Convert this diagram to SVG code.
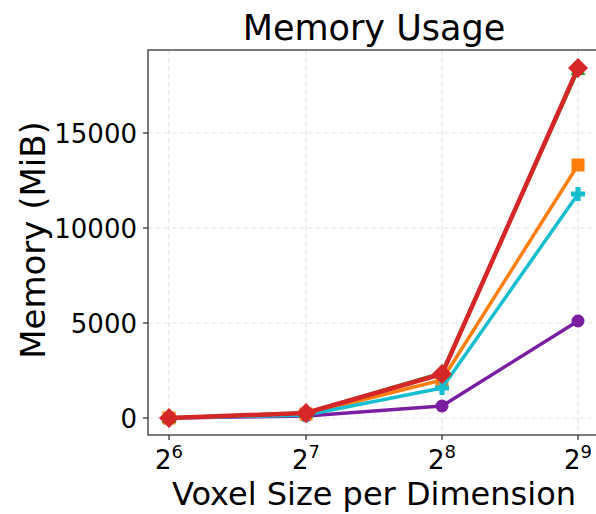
<svg xmlns="http://www.w3.org/2000/svg" width="596" height="514" viewBox="0 0 596 514">
<style>
text{font-family:"DejaVu Sans","Liberation Sans",sans-serif;fill:#000}
.grid{stroke:#e3e3e3;stroke-width:1.2;stroke-dasharray:5,3;fill:none}
.spine{stroke:#333;stroke-width:1.3;fill:none}
.tick{stroke:#333;stroke-width:1.3}
.ytl{font-size:26px;text-anchor:end}
.xtl{font-size:26px;text-anchor:middle}
.sup{font-size:18px}
.ln{fill:none;stroke-linejoin:round;stroke-linecap:round}
</style>
<defs>
<circle id="mC" r="6.5"/>
<rect id="mS" x="-6.5" y="-6.5" width="13" height="13"/>
<path id="mP" d="M-2.6,-7h5.2v4.4h4.4v5.2h-4.4v4.4h-5.2v-4.4h-4.4v-5.2h4.4z"/>
<path id="mT" d="M0,-8L7.5,5H-7.5Z"/>
<path id="mD" d="M0,-10L10,0L0,10L-10,0Z"/>
</defs>
<rect width="596" height="514" fill="#fff"/>
<g id="grid">
<line class="grid" x1="169" y1="50" x2="169" y2="435"/>
<line class="grid" x1="306" y1="50" x2="306" y2="435"/>
<line class="grid" x1="442" y1="50" x2="442" y2="435"/>
<line class="grid" x1="578" y1="50" x2="578" y2="435"/>
<line class="grid" x1="148" y1="133" x2="601" y2="133"/>
<line class="grid" x1="148" y1="228" x2="601" y2="228"/>
<line class="grid" x1="148" y1="323" x2="601" y2="323"/>
<line class="grid" x1="148" y1="418" x2="601" y2="418"/>
</g>
<g id="axes">
<rect class="spine" x="148" y="50" width="453" height="385"/>
<line class="tick" x1="143" y1="133" x2="148" y2="133"/>
<line class="tick" x1="143" y1="228" x2="148" y2="228"/>
<line class="tick" x1="143" y1="323" x2="148" y2="323"/>
<line class="tick" x1="143" y1="418" x2="148" y2="418"/>
<line class="tick" x1="169" y1="435" x2="169" y2="440"/>
<line class="tick" x1="306" y1="435" x2="306" y2="440"/>
<line class="tick" x1="442" y1="435" x2="442" y2="440"/>
<line class="tick" x1="578" y1="435" x2="578" y2="440"/>
<text class="ytl" x="137" y="142.5">15000</text>
<text class="ytl" x="137" y="237.5">10000</text>
<text class="ytl" x="137" y="332.5">5000</text>
<text class="ytl" x="137" y="427.5">0</text>
<text class="xtl" x="169" y="469">2<tspan class="sup" dy="-11">6</tspan></text>
<text class="xtl" x="306" y="469">2<tspan class="sup" dy="-11">7</tspan></text>
<text class="xtl" x="442" y="469">2<tspan class="sup" dy="-11">8</tspan></text>
<text class="xtl" x="578" y="469">2<tspan class="sup" dy="-11">9</tspan></text>
<text x="374" y="40" font-size="35" text-anchor="middle">Memory Usage</text>
<text x="374" y="505" font-size="32" text-anchor="middle">Voxel Size per Dimension</text>
<text transform="translate(45,240) rotate(-90)" font-size="34" text-anchor="middle">Memory (MiB)</text>
</g>
<g id="series-purple" fill="#7b1fa2">
<polyline class="ln" stroke="#7b1fa2" stroke-width="3.5" points="169,418 306,416 442,406 578,321"/>
<use href="#mC" x="169" y="418"/><use href="#mC" x="306" y="416"/><use href="#mC" x="442" y="406"/><use href="#mC" x="578" y="321"/>
</g>
<g id="series-orange" fill="#ff7f0e">
<polyline class="ln" stroke="#ff7f0e" stroke-width="3.5" points="169,418 306,414 442,380 578,165"/>
<use href="#mS" x="169" y="418"/><use href="#mS" x="306" y="414"/><use href="#mS" x="442" y="380"/><use href="#mS" x="578" y="165"/>
</g>
<g id="series-cyan" fill="#17becf">
<polyline class="ln" stroke="#17becf" stroke-width="3.5" points="169,418 306,415 442,388 578,194"/>
<use href="#mP" x="169" y="418"/><use href="#mP" x="306" y="415"/><use href="#mP" x="442" y="388"/><use href="#mP" x="578" y="194"/>
</g>
<g id="series-green" fill="#2ca02c">
<polyline class="ln" stroke="#2ca02c" stroke-width="3.5" points="169,418 306,413 442,373 578,70"/>
<use href="#mT" x="169" y="418"/><use href="#mT" x="306" y="413"/><use href="#mT" x="442" y="373"/><use href="#mT" x="578" y="70"/>
</g>
<g id="series-red" fill="#d62728">
<polyline class="ln" stroke="#d62728" stroke-width="4.5" points="169,418 306,413 442,374 578,68"/>
<use href="#mD" x="169" y="418"/><use href="#mD" x="306" y="413"/><use href="#mD" x="442" y="374"/><use href="#mD" x="578" y="68"/>
</g>
</svg>
